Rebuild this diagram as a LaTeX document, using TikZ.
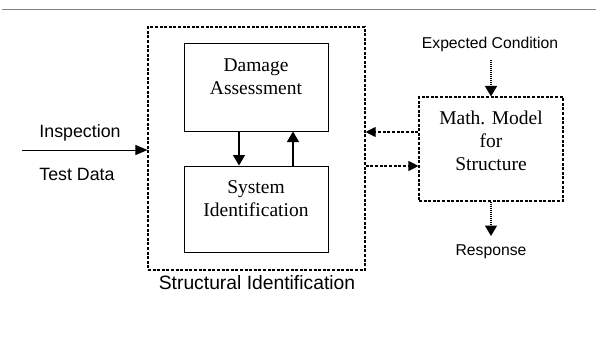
\documentclass[tikz,border=0pt]{standalone}
\usepackage{fontspec}
\setmainfont{Liberation Serif}
\setsansfont{Liberation Sans}
\usetikzlibrary{arrows.meta}
\begin{document}
\begin{tikzpicture}[x=1pt,y=-1pt,
  box/.style={draw, line width=1pt, inner sep=0pt},
  dbox/.style={draw, line width=1.1pt, dash pattern=on 3pt off 1.6pt, inner sep=0pt},
  serif/.style={font=\fontsize{19.5}{23}\selectfont, align=center, inner sep=0pt},
  sansbig/.style={font=\sffamily\fontsize{19.3}{22}\selectfont, inner sep=0pt},
  sansmid/.style={font=\sffamily\fontsize{17.8}{20}\selectfont, inner sep=0pt},
  sanssmall/.style={font=\sffamily\fontsize{15.7}{18}\selectfont, inner sep=0pt},
  tip/.style={-{Triangle[length=10.5pt,width=12pt]}},
  solidarrow/.style={tip, line width=1.2pt},
  dasharrow/.style={-{Triangle[length=10pt,width=10pt]}, line width=1.1pt, dash pattern=on 3pt off 1.7pt},
  dotarrow/.style={tip, line width=1.2pt, dash pattern=on 1pt off 1pt}]
\useasboundingbox (0,0) rectangle (596,337);
% top rule
\coordinate (rl) at (2,9);
\coordinate (rr) at (596,9);
\draw[gray, line width=0.8pt] (rl) -- (rr);
% boxes
\node[dbox, minimum width=217pt, minimum height=243pt] (outer) at (256.5,148.5) {};
\node[box, minimum width=144pt, minimum height=87pt] (da) at (256,87.5) {};
\node[box, minimum width=144pt, minimum height=86pt] (si) at (256,209) {};
\node[dbox, minimum width=144pt, minimum height=104pt] (mm) at (491,149) {};
% box texts
\node[serif] (tda) at (256,77) {Damage\\Assessment};
\node[serif] (tsi) at (256,199) {System\\Identification};
\node[serif] (tmm) at (491,141) {Math. Model\\for\\Structure};
% labels
\node[sansbig] (lsi) at (257,283) {Structural Identification};
\node[sanssmall] (lec) at (490,44) {Expected Condition};
\node[sanssmall] (lre) at (491,252) {Response};
\node[sansmid] (lin) at (80,133) {Inspection};
\node[sansmid] (ltd) at (77,174) {Test Data};
% connectors
\coordinate (xdown) at (239,0);
\coordinate (xup) at (293,0);
\draw[solidarrow] (da.south -| xdown) -- (si.north -| xdown);
\draw[solidarrow] (si.north -| xup) -- (da.south -| xup);
\coordinate (inl) at (22,150);
\draw[-{Triangle[length=12pt,width=10pt]}, line width=1pt] (inl) -- (outer.west |- inl);
\coordinate (y1) at (0,132);
\coordinate (y2) at (0,166);
\draw[dasharrow] (mm.west |- y1) -- (outer.east |- y1);
\draw[dasharrow] (outer.east |- y2) -- (mm.west |- y2);
\coordinate (ectop) at (491,60);
\draw[dotarrow] (ectop) -- (mm.north);
\coordinate (rebot) at (491,236);
\draw[dotarrow] (mm.south) -- (rebot);
\end{tikzpicture}
\end{document}
